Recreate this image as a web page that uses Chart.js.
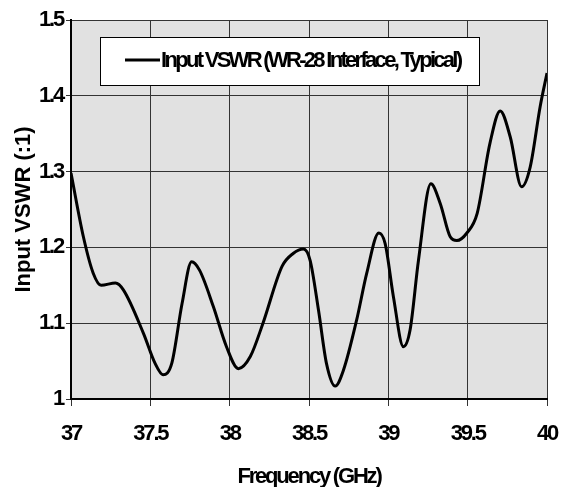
<!DOCTYPE html>
<html>
<head>
<meta charset="utf-8">
<script src="https://cdn.jsdelivr.net/npm/chart.js@4"></script>
<style>
  html, body { margin: 0; padding: 0; background: #fff; }
  #wrap { width: 567px; height: 487px; }
</style>
</head>
<body>
<div id="wrap"><canvas id="chartVswr"></canvas></div>
<script>
// Input VSWR (fréquence en GHz)
const freqGhz = [37, 37.078, 37.14, 37.19, 37.28, 37.33, 37.456, 37.53, 37.58, 37.635,
  37.70, 37.76, 37.81, 37.897, 37.98, 38.055, 38.13, 38.21, 38.33, 38.40, 38.465,
  38.507, 38.56, 38.61, 38.665, 38.717, 38.80, 38.864, 38.94, 38.98, 39.032, 39.095,
  39.137, 39.19, 39.268, 39.327, 39.39, 39.432, 39.495, 39.56, 39.64, 39.705, 39.768,
  39.84, 39.894, 39.957, 40];
const vswr = [1.298, 1.214, 1.166, 1.150, 1.153, 1.144, 1.087, 1.047, 1.032, 1.047,
  1.126, 1.181, 1.170, 1.122, 1.069, 1.040, 1.056, 1.100, 1.175, 1.192, 1.198,
  1.183, 1.117, 1.047, 1.017, 1.038, 1.104, 1.166, 1.219, 1.205, 1.135, 1.069,
  1.091, 1.183, 1.284, 1.258, 1.214, 1.209, 1.219, 1.245, 1.337, 1.380, 1.346,
  1.280, 1.306, 1.386, 1.43];
const seriesLabel = 'Input VSWR (WR-28 Interface, Typical)';
const xTitle = 'Frequency (GHz)';
const yTitle = 'Input VSWR (:1)';

const FONT = '"Liberation Sans", Arial, sans-serif';

// fond gris + police serrée comme l'original
const plotBackground = {
  id: 'plotBackground',
  beforeDraw(chart) {
    const { ctx, chartArea: a } = chart;
    ctx.save();
    ctx.fillStyle = '#e1e1e1';
    ctx.fillRect(a.left, a.top, a.right - a.left, a.bottom - a.top);
    ctx.restore();
    ctx.letterSpacing = '-2.2px';
  }
};

// légende encadrée et titre vertical
const boxedLegend = {
  id: 'boxedLegend',
  afterDatasetsDraw(chart) {
    const { ctx, chartArea: a } = chart;
    const x = 100, y = 37, w = 379, h = 48;
    ctx.save();
    ctx.fillStyle = '#fff';
    ctx.fillRect(x, y, w, h);
    ctx.strokeStyle = '#000';
    ctx.lineWidth = 1;
    ctx.strokeRect(x + 0.5, y + 0.5, w, h);
    ctx.beginPath();
    ctx.lineWidth = 3;
    ctx.moveTo(125, 60);
    ctx.lineTo(160, 60);
    ctx.stroke();
    ctx.fillStyle = '#000';
    ctx.letterSpacing = '-2.7px';
    ctx.font = 'bold 22px ' + FONT;
    ctx.textBaseline = 'middle';
    ctx.fillText(chart.data.datasets[0].label, 161, 61);

    ctx.letterSpacing = '0px';
    ctx.translate(24, (a.top + a.bottom) / 2);
    ctx.rotate(-Math.PI / 2);
    ctx.textAlign = 'center';
    ctx.font = 'bold 22px ' + FONT;
    ctx.fillText(yTitle, 0, 0);
    ctx.restore();
  }
};

const fmt = (v) => String(Math.round(v * 10) / 10);

new Chart(document.getElementById('chartVswr').getContext('2d'), {
  type: 'line',
  data: {
    datasets: [{
      label: seriesLabel,
      data: freqGhz.map((f, i) => ({ x: f, y: vswr[i] })),
      borderColor: '#000',
      borderWidth: 3,
      pointRadius: 0,
      cubicInterpolationMode: 'monotone',
      fill: false,
    }]
  },
  options: {
    responsive: true,
    maintainAspectRatio: false,
    animation: false,
    layout: { padding: { left: 0, right: 20, top: 20, bottom: 0 } },
    plugins: { legend: { display: false }, tooltip: { enabled: false } },
    scales: {
      x: {
        type: 'linear',
        min: 37, max: 40,
        afterFit: (s) => { s.height = 88; s.paddingLeft = 0; s.paddingRight = 0; },
        ticks: { stepSize: 0.5, color: '#000', padding: 15, callback: fmt,
          font: { family: FONT, size: 22, weight: 'bold' } },
        grid: { color: '#333', lineWidth: 1, tickLength: 7 },
        border: { color: '#000', width: 2 },
        title: { display: true, text: xTitle, color: '#000', padding: { top: 0, bottom: -3 },
          font: { family: FONT, size: 22, weight: 'bold' } }
      },
      y: {
        min: 1, max: 1.5,
        afterFit: (s) => { s.width = 71; s.paddingTop = 0; s.paddingBottom = 0; },
        ticks: { stepSize: 0.1, color: '#000', padding: 3, callback: fmt,
          font: { family: FONT, size: 22, weight: 'bold' } },
        grid: { color: '#333', lineWidth: 1, tickLength: 5 },
        border: { color: '#000', width: 2 }
      }
    }
  },
  plugins: [plotBackground, boxedLegend]
});
</script>
</body>
</html>
